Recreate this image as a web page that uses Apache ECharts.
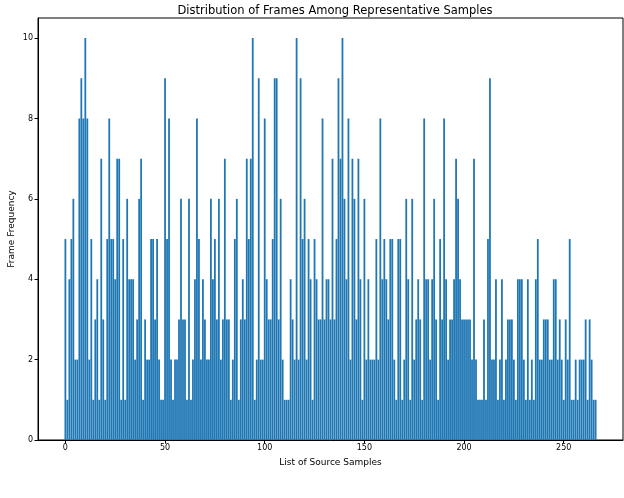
<!DOCTYPE html>
<html>
<head>
<meta charset="utf-8">
<script src="https://cdn.jsdelivr.net/npm/echarts@6/dist/echarts.min.js"></script>
<style>
  html, body { margin: 0; padding: 0; background: #fff; }
  #chart { width: 624px; height: 498px; }
</style>
</head>
<body>
<div id="chart"></div>
<script>
const chartTitle = 'Distribution of Frames Among Representative Samples';
const xName = 'List of Source Samples';
const yName = 'Frame Frequency';

// frames per sample (sample index = position)
const frameCounts = [
  5, 1, 4, 5, 6, 2, 2, 8, 9, 8, 10, 8, 2, 5, 1, 3, 4, 1, 7, 3, 1,
  5, 8, 5, 5, 4, 7, 7, 1, 5, 1, 6, 4, 4, 4, 2, 3, 6, 7, 1, 3, 2, 2,
  5, 5, 3, 5, 2, 1, 1, 9, 5, 8, 2, 1, 2, 2, 3, 6, 3, 3, 1, 6, 1, 2, 4,
  8, 5, 2, 4, 3, 2, 2, 6, 4, 5, 3, 6, 2, 3, 7, 3, 3, 1, 2, 5, 6, 1,
  3, 4, 3, 7, 5, 7, 10, 1, 2, 9, 2, 2, 8, 4, 3, 3, 5, 9, 9, 3, 6, 2, 1,
  1, 1, 4, 3, 2, 10, 2, 9, 5, 6, 2, 5, 4, 1, 5, 4, 3, 3, 8, 3, 4, 4,
  3, 7, 3, 5, 9, 7, 10, 6, 4, 8, 2, 7, 6, 3, 7, 4, 1, 6, 2, 4, 2, 2, 2,
  5, 2, 8, 4, 5, 4, 3, 5, 5, 2, 1, 5, 5, 1, 2, 6, 4, 1, 6, 2, 3, 4,
  3, 1, 8, 4, 4, 2, 4, 6, 3, 1, 5, 3, 8, 4, 2, 3, 3, 4, 7, 6, 4, 3, 3,
  3, 3, 3, 2, 7, 2, 1, 1, 1, 3, 1, 5, 9, 2, 2, 4, 1, 2, 4, 1, 2, 3,
  3, 3, 2, 1, 4, 4, 4, 2, 1, 4, 1, 2, 1, 4, 5, 2, 2, 3, 3, 3, 2, 2, 4,
  4, 2, 3, 2, 1, 3, 2, 5, 1, 1, 2, 1, 2, 2, 2, 3, 1, 3, 2, 1, 1
];
const sampleIds = frameCounts.map((v, i) => i);
const xTicks = [0, 50, 100, 150, 200, 250];
const yTicks = [0, 2, 4, 6, 8, 10];

const myChart = echarts.init(document.getElementById('chart'), null, { renderer: 'canvas' });

const font = 'DejaVu Sans';
const n = sampleIds.length;
const pad = (n - 1 + 0.8) * 0.05;

myChart.setOption({
  animation: false,
  backgroundColor: '#fff',
  title: {
    text: chartTitle,
    left: 330,
    textAlign: 'center',
    top: 0,
    textStyle: { fontFamily: font, fontSize: 11.5, fontWeight: 'normal', color: '#000' }
  },
  grid: {
    left: 38, right: 1, top: 18, bottom: 58,
    outerBoundsMode: 'none',
    containLabel: false,
    show: true, borderColor: '#000', borderWidth: 1, backgroundColor: 'transparent'
  },
  xAxis: {
    type: 'value',
    min: -0.4 - pad,
    max: n - 1 + 0.4 + pad,
    name: xName,
    nameLocation: 'middle',
    nameGap: 18,
    nameMoveOverlap: false,
    nameTextStyle: { fontFamily: font, fontSize: 9, color: '#000' },
    axisLine: { show: true, onZero: false, lineStyle: { color: '#000', width: 1 } },
    axisTick: { show: true, length: 3.5, lineStyle: { color: '#000' }, customValues: xTicks },
    axisLabel: { fontFamily: font, fontSize: 8, color: '#000', margin: 4, customValues: xTicks },
    splitLine: { show: false }
  },
  yAxis: {
    type: 'value',
    min: 0,
    max: 10.5,
    name: yName,
    nameLocation: 'middle',
    nameGap: 22,
    nameMoveOverlap: false,
    nameTextStyle: { fontFamily: font, fontSize: 9, color: '#000' },
    axisLine: { show: true, onZero: false, lineStyle: { color: '#000', width: 1 } },
    axisTick: { show: true, length: 3.5, lineStyle: { color: '#000' }, customValues: yTicks },
    axisLabel: { fontFamily: font, fontSize: 8, color: '#000', margin: 5, customValues: yTicks },
    splitLine: { show: false }
  },
  series: [{
    type: 'bar',
    data: sampleIds.map((id, i) => [id, frameCounts[i]]),
    barWidth: '90%',
    itemStyle: { color: '#1f77b4' },
    silent: true
  }]
});
</script>
</body>
</html>
